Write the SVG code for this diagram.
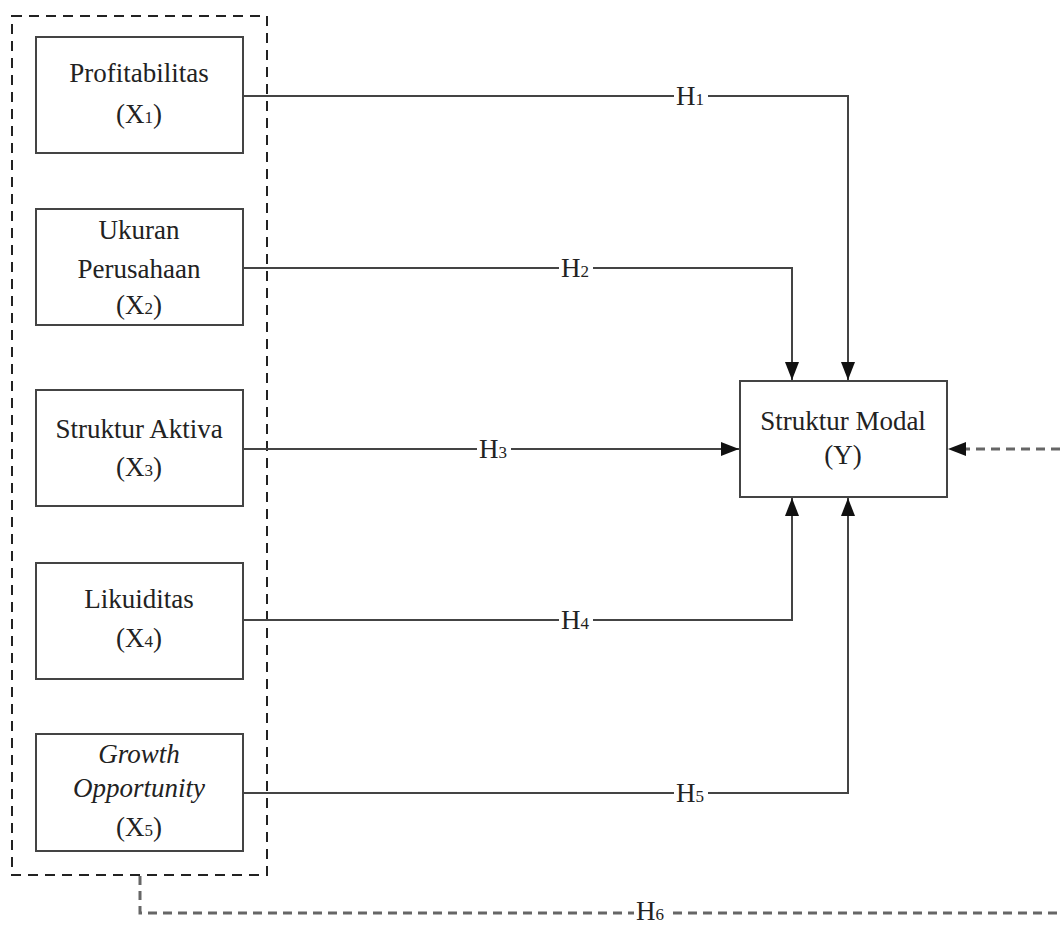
<svg xmlns="http://www.w3.org/2000/svg" width="1060" height="925" viewBox="0 0 1060 925">
<style>
.box{fill:#fff;stroke:#444;stroke-width:2}
.t{font-family:"Liberation Serif","Times New Roman",serif;font-size:27px;fill:#222;text-anchor:middle}
.s{font-size:17px}
.ln{fill:none;stroke:#444;stroke-width:2}
.dl{fill:none;stroke:#666;stroke-width:3;stroke-dasharray:9 6}
.lab{font-family:"Liberation Serif","Times New Roman",serif;font-size:27px;fill:#222;text-anchor:middle}
.bg{fill:#fff}
</style>
<defs>
<marker id="ah" viewBox="0 0 18 14" refX="18" refY="7" markerWidth="18" markerHeight="14" markerUnits="userSpaceOnUse" orient="auto">
<path d="M0,0 L18,7 L0,14 Z" fill="#111"/>
</marker>
</defs>
<g id="group-box">
<rect x="12" y="16" width="255" height="859" fill="none" stroke="#222" stroke-width="2" stroke-dasharray="10 7"/>
</g>
<g id="connectors">
<path class="ln" d="M243,96 H848 V380" marker-end="url(#ah)"/>
<path class="ln" d="M243,268 H792 V380" marker-end="url(#ah)"/>
<path class="ln" d="M243,449 H739" marker-end="url(#ah)"/>
<path class="ln" d="M243,620 H792 V498" marker-end="url(#ah)"/>
<path class="ln" d="M243,793 H848 V498" marker-end="url(#ah)"/>
<path class="dl" d="M140,876 V913 H1062 V449 H966"/>
<path d="M966,442 L948,449 L966,456 Z" fill="#111"/>
<rect class="bg" x="674" y="84" width="34" height="24"/>
<text class="lab" x="690" y="105">H<tspan class="s">1</tspan></text>
<rect class="bg" x="559" y="256" width="34" height="24"/>
<text class="lab" x="575" y="277">H<tspan class="s">2</tspan></text>
<rect class="bg" x="477" y="437" width="34" height="24"/>
<text class="lab" x="493" y="458">H<tspan class="s">3</tspan></text>
<rect class="bg" x="559" y="608" width="34" height="24"/>
<text class="lab" x="575" y="629">H<tspan class="s">4</tspan></text>
<rect class="bg" x="674" y="781" width="34" height="24"/>
<text class="lab" x="690" y="802">H<tspan class="s">5</tspan></text>
<rect class="bg" x="634" y="901" width="34" height="24"/>
<text class="lab" x="650" y="920" font-size="25">H<tspan class="s">6</tspan></text>
</g>
<g id="x1">
<rect class="box" x="36" y="37" width="207" height="116"/>
<text class="t" x="139" y="82">Profitabilitas</text>
<text class="t" x="139" y="123">(X<tspan class="s">1</tspan>)</text>
</g>
<g id="x2">
<rect class="box" x="36" y="209" width="207" height="116"/>
<text class="t" x="139" y="239">Ukuran</text>
<text class="t" x="139" y="278">Perusahaan</text>
<text class="t" x="139" y="314">(X<tspan class="s">2</tspan>)</text>
</g>
<g id="x3">
<rect class="box" x="36" y="390" width="207" height="116"/>
<text class="t" x="139" y="438">Struktur Aktiva</text>
<text class="t" x="139" y="476">(X<tspan class="s">3</tspan>)</text>
</g>
<g id="x4">
<rect class="box" x="36" y="563" width="207" height="116"/>
<text class="t" x="139" y="608">Likuiditas</text>
<text class="t" x="139" y="647">(X<tspan class="s">4</tspan>)</text>
</g>
<g id="x5">
<rect class="box" x="36" y="734" width="207" height="117"/>
<text class="t" x="139" y="763" font-style="italic">Growth</text>
<text class="t" x="139" y="797" font-style="italic">Opportunity</text>
<text class="t" x="139" y="836">(X<tspan class="s">5</tspan>)</text>
</g>
<g id="y">
<rect class="box" x="740" y="381" width="207" height="116"/>
<text class="t" x="843" y="430">Struktur Modal</text>
<text class="t" x="843" y="464">(Y)</text>
</g>
</svg>
